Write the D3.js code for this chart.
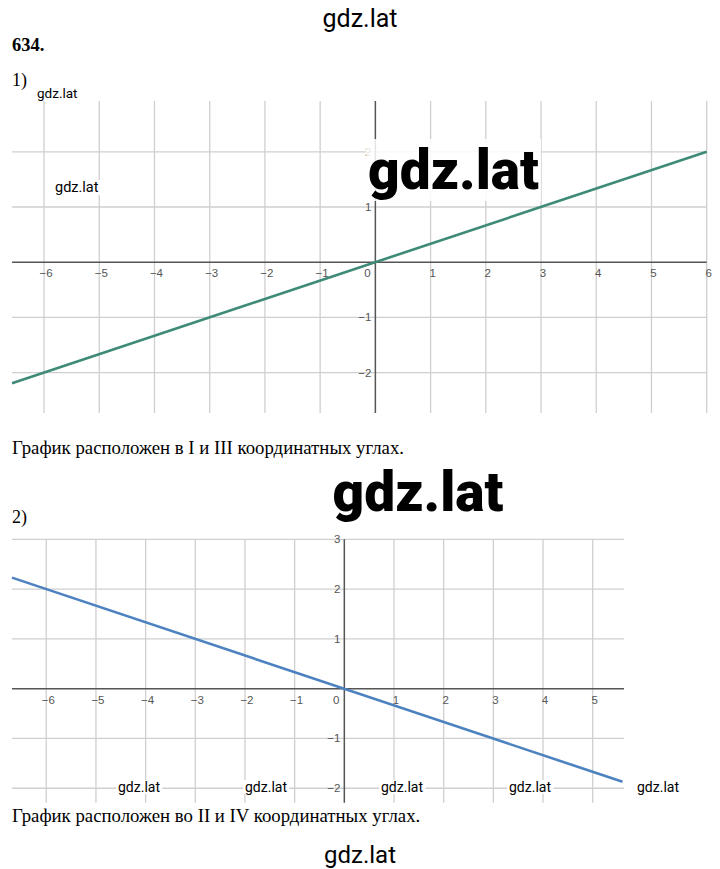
<!DOCTYPE html>
<html><head><meta charset="utf-8">
<script src="https://cdn.jsdelivr.net/npm/d3@7"></script>
<style>body{margin:0;background:#fff}svg{display:block}</style>
</head><body>
<script>
// ---- data ----
const xTicks1 = [-6,-5,-4,-3,-2,-1,0,1,2,3,4,5,6];
const yTicks1 = [-2,-1,1,2];
const line1X = [-6.58, 6];
const line1Y = [-2.19, 2];

const xTicks2 = [-6,-5,-4,-3,-2,-1,0,1,2,3,4,5];
const yTicks2 = [-2,-1,1,2,3];
const line2X = [-6.69, 5.6];
const line2Y = [2.23, -1.87];

const captions = ["График расположен в I и III координатных углах.",
                  "График расположен во II и IV координатных углах."];

const W = 720, H = 869;
const svg = d3.select("body").append("svg").attr("width", W).attr("height", H);

function fmt(v){ return v < 0 ? "\u2212" + Math.abs(v) : String(v); }

function chart(cfg){
  const x = d3.scaleLinear().domain(cfg.xd).range(cfg.xr);
  const y = d3.scaleLinear().domain(cfg.yd).range(cfg.yr);
  const g = svg.append("g");
  const [x0,x1] = cfg.xr, [y0,y1] = cfg.yr;
  g.selectAll(".vg").data(cfg.xt.filter(d=>d!==0)).join("line")
    .attr("x1", d=>x(d)).attr("x2", d=>x(d)).attr("y1", y1).attr("y2", y0)
    .attr("stroke", "#cfcfcf").attr("stroke-width", 1.3);
  g.selectAll(".hg").data(cfg.yt).join("line")
    .attr("x1", x0).attr("x2", x1).attr("y1", d=>y(d)).attr("y2", d=>y(d))
    .attr("stroke", "#cfcfcf").attr("stroke-width", 1.3);
  g.append("line").attr("x1", x0).attr("x2", x1).attr("y1", y(0)).attr("y2", y(0))
    .attr("stroke", "#555").attr("stroke-width", 1.5);
  g.append("line").attr("x1", x(0)).attr("x2", x(0)).attr("y1", y1).attr("y2", y0)
    .attr("stroke", "#555").attr("stroke-width", 1.5);
  g.selectAll(".xl").data(cfg.xt).join("text")
    .attr("x", d=> d===0 ? x(d)-8 : x(d)+2).attr("y", y(0)+15)
    .attr("text-anchor", "middle").attr("font-family", "Liberation Sans, Arial, sans-serif")
    .attr("font-size", 11.5).attr("fill", "#555").text(fmt);
  g.selectAll(".yl").data(cfg.yt).join("text")
    .attr("x", x(0)-4).attr("y", d=>y(d)+4)
    .attr("text-anchor", "end").attr("font-family", "Liberation Sans, Arial, sans-serif")
    .attr("font-size", 11.5).attr("fill", "#555").text(fmt);
  const pts = cfg.lx.map((v,i)=>[v, cfg.ly[i]]);
  g.append("path").datum(pts)
    .attr("d", d3.line().x(d=>x(d[0])).y(d=>y(d[1])))
    .attr("fill","none").attr("stroke", cfg.color).attr("stroke-width", 2.6);
}

chart({xd:[-6.58,6], xr:[12,706.7], yd:[-2.73,2.92], yr:[413,101],
  xt:xTicks1, yt:yTicks1, lx:line1X, ly:line1Y, color:"#3f8a78"});
chart({xd:[-6.69,5.63], xr:[12,624], yd:[-2.29,3], yr:[802.7,539.3],
  xt:xTicks2, yt:yTicks2, lx:line2X, ly:line2Y, color:"#4d82c0"});

function txt(x,y,s,size,opts={}){
  const t = svg.append("text").attr("x",x).attr("y",y).text(s)
    .attr("font-size",size)
    .attr("font-family", opts.family || "Roboto, Arial, sans-serif")
    .attr("font-weight", opts.weight || 400)
    .attr("fill", "#000")
    .attr("text-anchor", opts.anchor || "start");
  if (opts.bg){
    const b = t.node().getBBox();
    svg.insert("rect", () => t.node()).attr("x", b.x-2).attr("y", b.y+1).attr("width", b.width+4)
      .attr("height", b.height-2).attr("fill", "#fff").attr("opacity", opts.bg);
  }
  return t;
}
const serif = "Liberation Serif, Times New Roman, serif";
txt(360, 27, "gdz.lat", 25, {anchor:"middle"});
txt(12, 51, "634.", 18.5, {family:serif, weight:700});
txt(12, 86, "1)", 18, {family:serif});
txt(37, 98, "gdz.lat", 13.5, {bg:1});
txt(55, 192, "gdz.lat", 14.5, {bg:1});
txt(453.5, 189, "gdz.lat", 55, {anchor:"middle", weight:900, bg:0.85});
txt(12, 454, captions[0], 18.8, {family:serif});
txt(418, 511, "gdz.lat", 55, {anchor:"middle", weight:900});
txt(12, 523, "2)", 18, {family:serif});
[118, 245, 381, 509, 637].forEach(x0 => txt(x0, 792, "gdz.lat", 14, {bg:1}));
txt(12, 822, captions[1], 18.8, {family:serif});
txt(360, 863, "gdz.lat", 24, {anchor:"middle"});
</script>
</body></html>
